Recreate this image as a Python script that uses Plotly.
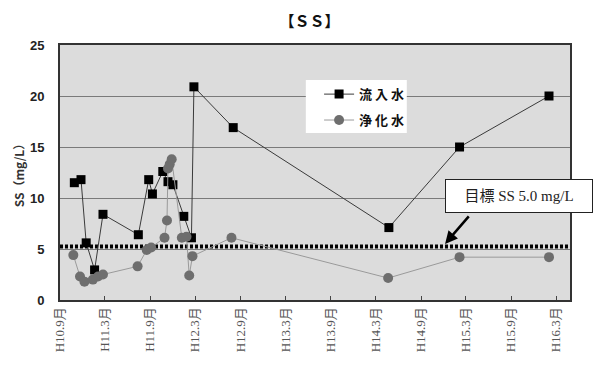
import plotly.graph_objects as go

# ---- data ----
inflow_dates = ["1998-10-29", "1998-11-25", "1998-12-16", "1999-01-19", "1999-02-22",
                "1999-07-15", "1999-08-26", "1999-09-10", "1999-10-22", "1999-11-12",
                "1999-12-02", "2000-01-15", "2000-02-15", "2000-02-25", "2000-08-02",
                "2002-04-24", "2003-02-04", "2004-02-01"]
inflow_ss = [11.5, 11.8, 5.6, 2.95, 8.4,
             6.4, 11.8, 10.4, 12.6, 11.6,
             11.3, 8.2, 6.1, 20.9, 16.9,
             7.1, 15.0, 20.0]

purified_dates = ["1998-10-25", "1998-11-21", "1998-12-09", "1999-01-12", "1999-02-02",
                  "1999-02-22", "1999-07-12", "1999-08-18", "1999-09-05", "1999-10-29",
                  "1999-11-08", "1999-11-12", "1999-11-19", "1999-11-27", "2000-01-07",
                  "2000-01-26", "2000-02-06", "2000-02-19", "2000-07-26", "2002-04-21",
                  "2003-02-04", "2004-02-01"]
purified_ss = [4.4, 2.3, 1.8, 2.0, 2.3,
               2.5, 3.3, 4.9, 5.15, 6.1,
               7.8, 12.9, 13.3, 13.8, 6.1,
               6.2, 2.4, 4.3, 6.1, 2.15,
               4.2, 4.2]

target_ss = 5.25
target_span = ["1998-09-01", "2004-04-26"]

tick_dates = ["1998-09-01", "1999-03-01", "1999-09-01", "2000-03-01", "2000-09-01",
              "2001-03-01", "2001-09-01", "2002-03-01", "2002-09-01", "2003-03-01",
              "2003-09-01", "2004-03-01"]
tick_labels = ["H10.9月", "H11.3月", "H11.9月", "H12.3月", "H12.9月", "H13.3月",
               "H13.9月", "H14.3月", "H14.9月", "H15.3月", "H15.9月", "H16.3月"]

fig = go.Figure()

# target line
fig.add_trace(go.Scatter(
    x=target_span, y=[target_ss, target_ss], mode="lines",
    line=dict(color="black", width=4, dash="3px,2px"),
    showlegend=False, hoverinfo="skip"))

fig.add_trace(go.Scatter(
    x=inflow_dates, y=inflow_ss, mode="lines+markers", name="流 入 水",
    legendgroup="a",
    line=dict(color="#3a3a3a", width=1),
    marker=dict(symbol="square", size=9, color="black")))

fig.add_trace(go.Scatter(
    x=purified_dates, y=purified_ss, mode="lines+markers", name="浄 化 水",
    legendgroup="b",
    line=dict(color="#9a9a9a", width=1),
    marker=dict(symbol="circle", size=10, color="#6e6e6e")))

# The page body has an 8px default margin, so the figure is made 8px smaller
# and the margins are shifted to keep the plot where it sits in the reference.
fig.update_layout(
    width=603, height=363,
    margin=dict(l=52, r=41, t=37, b=71),
    paper_bgcolor="white",
    plot_bgcolor="#dcdcdc",
    font=dict(family="Noto Sans CJK JP", color="#222"),
    title=dict(text="<b>【ＳＳ】</b>", x=0.5, xanchor="center", y=0.962, yanchor="middle",
               font=dict(size=15, color="#111")),
    showlegend=True,
    legend=dict(x=0.508, y=0.866, xanchor="left", yanchor="top",
                bgcolor="rgba(0,0,0,0)", borderwidth=0,
                font=dict(size=13, color="#111", family="Noto Sans CJK JP", weight="bold"),
                traceorder="grouped", tracegroupgap=6,
                itemwidth=30),
    xaxis=dict(type="date", range=target_span, automargin=False,
               tickmode="array", tickvals=tick_dates, ticktext=tick_labels,
               tickangle=-90,
               tickfont=dict(size=13, color="#555", family="Liberation Serif, Noto Sans CJK JP"),
               ticks="inside", ticklen=4, tickcolor="#444",
               showgrid=False, showline=True, linecolor="#333", linewidth=2,
               mirror=True, zeroline=False),
    yaxis=dict(range=[0, 25], dtick=5, automargin=False,
               tickfont=dict(size=13, color="#222", family="Liberation Sans Narrow, Liberation Sans",
                             weight="bold"),
               showgrid=True, gridcolor="#7a7a7a", gridwidth=1,
               showline=True, linecolor="#333", linewidth=2, mirror=True,
               ticks="", ticklabelstandoff=11, zeroline=False,
               title=dict(text="SS（mg/L）",
                          font=dict(size=12, color="#333", weight="bold"), standoff=3)),
)

# white legend panel behind the legend entries
fig.add_shape(type="rect", xref="paper", yref="paper",
              x0=0.482, x1=0.680, y0=0.655, y1=0.863,
              fillcolor="white", line=dict(width=0), layer="above")

# target annotation box
fig.add_annotation(xref="paper", yref="paper", x=0.9, y=0.408,
                   xanchor="center", yanchor="middle",
                   text="目標 SS 5.0 mg/L", showarrow=False,
                   font=dict(family="Liberation Serif, Noto Sans CJK JP", size=15, color="#222"),
                   bgcolor="white", bordercolor="#222", borderwidth=1,
                   width=144, height=30)
# arrow
fig.add_annotation(xref="paper", yref="paper", x=0.755, y=0.22,
                   ax=25, ay=-29, text="", showarrow=True,
                   arrowhead=2, arrowsize=1, arrowwidth=2.5, arrowcolor="black")

fig.write_html("out.html")
